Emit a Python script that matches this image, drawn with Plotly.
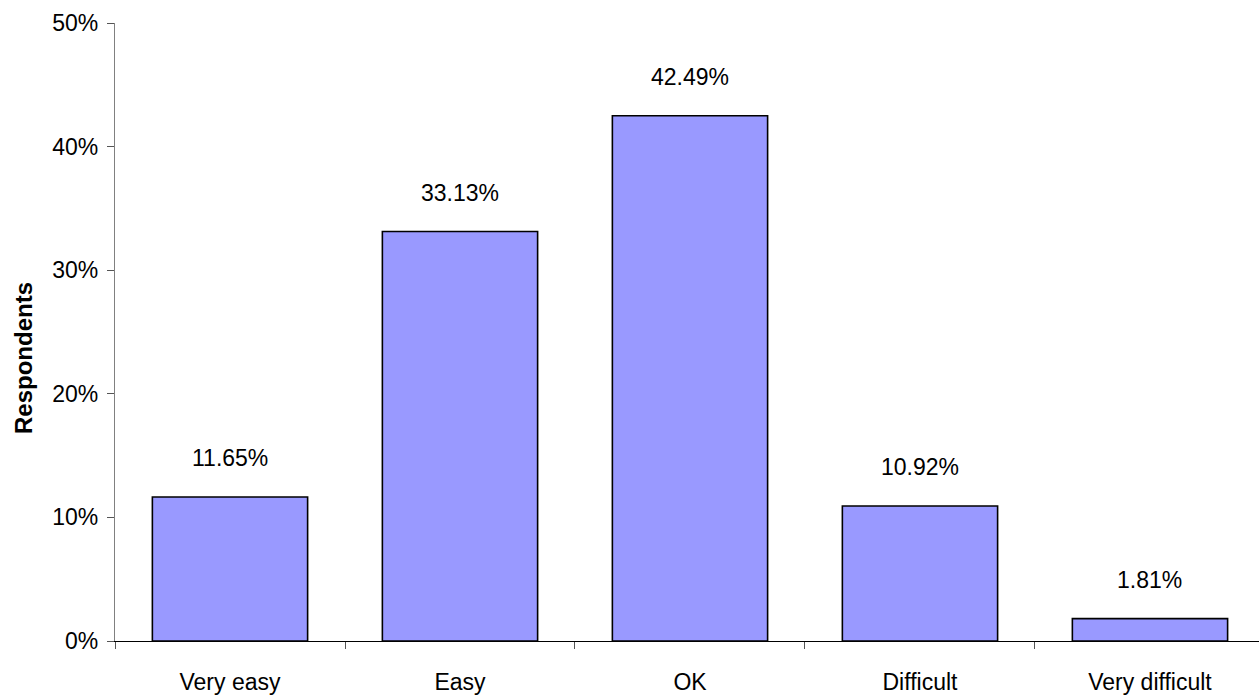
import plotly.graph_objects as go

categories = ["Very easy", "Easy", "OK", "Difficult", "Very difficult"]
shares = [11.65, 33.13, 42.49, 10.92, 1.81]
y_ticks = [0, 10, 20, 30, 40, 50]
y_tick_labels = ["0%", "10%", "20%", "30%", "40%", "50%"]

font_family = "Liberation Sans, Arial, sans-serif"
font_size = 23

fig = go.Figure()
fig.add_trace(go.Bar(
    x=categories,
    y=shares,
    width=0.675,
    marker=dict(color="#9999FF", line=dict(color="#000000", width=1.6)),
    hoverinfo="x+y",
))

# value labels floating above each bar
for cat, val in zip(categories, shares):
    fig.add_annotation(
        x=cat, y=val, text=f"{val:.2f}%", showarrow=False,
        yanchor="bottom", yshift=24,
        font=dict(family=font_family, size=font_size, color="#000000"),
    )

# rotated y-axis title, sitting a little below the plot's middle
fig.add_annotation(
    xref="paper", yref="paper", x=-0.0795, y=0.458,
    text="<b>Respondents</b>", textangle=-90, showarrow=False,
    xanchor="center", yanchor="middle",
    font=dict(family=font_family, size=24, color="#000000"),
)

fig.update_layout(
    width=1259, height=696,
    margin=dict(l=115, r=0, t=23, b=55),
    paper_bgcolor="white", plot_bgcolor="white",
    showlegend=False,
    bargap=0.3,
    font=dict(family=font_family, size=font_size, color="#000000"),
)
fig.update_xaxes(
    range=[-0.5, 4.474],
    showline=True, linecolor="#000000", linewidth=1.2,
    ticks="outside", tickson="boundaries", ticklen=7, tickcolor="#555555", tickwidth=1,
    showgrid=False, zeroline=False,
    tickfont=dict(family=font_family, size=font_size, color="#000000"),
    ticklabelstandoff=20,
)
fig.update_yaxes(
    range=[0, 50],
    tickvals=y_ticks, ticktext=y_tick_labels,
    showline=True, linecolor="#808080", linewidth=1.2,
    ticks="outside", ticklen=7, tickcolor="#555555", tickwidth=1,
    showgrid=False, zeroline=False,
    tickfont=dict(family=font_family, size=font_size, color="#000000"),
    ticklabelstandoff=4,
)

fig.write_html("out.html")
